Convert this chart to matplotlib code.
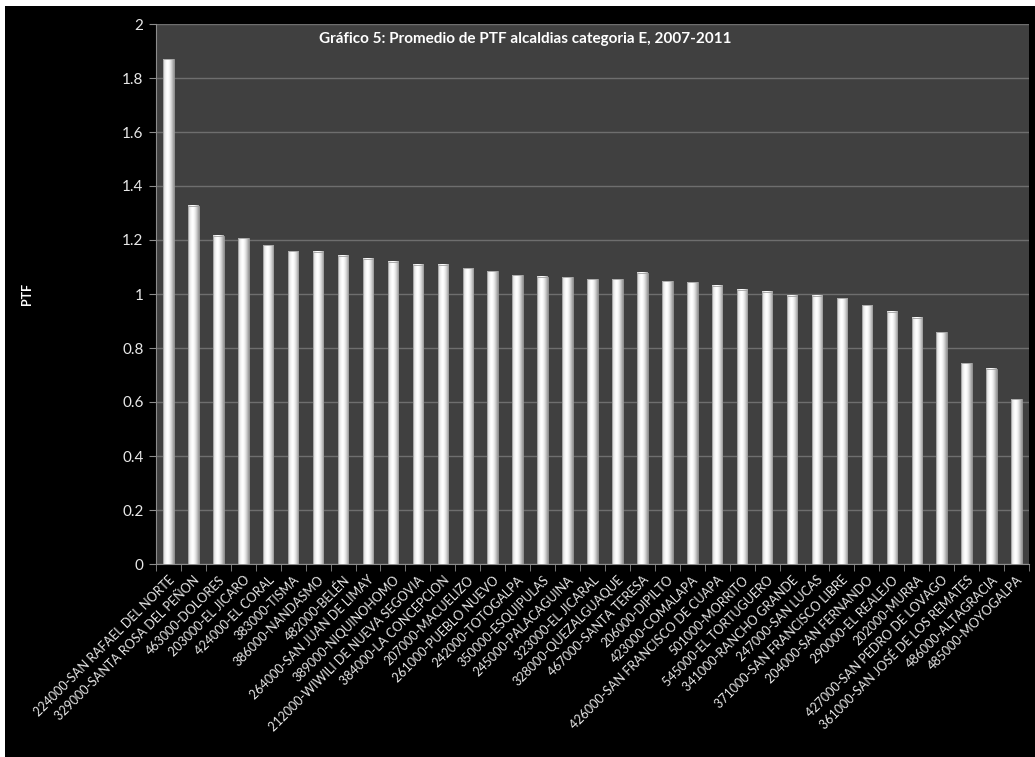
import matplotlib
matplotlib.use('Agg')
import matplotlib.pyplot as plt
import matplotlib.patches as mpatches
import numpy as np

plt.rcParams['font.family'] = ['Lato', 'DejaVu Sans']

BG = '#000000'
PLOT_BG = '#404040'
GRID = '#6e6e6e'
AXIS = '#8c8c8c'
TEXT = '#e8e8e8'

municipios = [
    '224000-SAN RAFAEL DEL NORTE', '329000-SANTA ROSA DEL PEÑON', '463000-DOLORES',
    '203000-EL JICARO', '424000-EL CORAL', '383000-TISMA', '386000-NANDASMO',
    '482000-BELÉN', '264000-SAN JUAN DE LIMAY', '389000-NIQUINOHOMO',
    '212000-WIWILI DE NUEVA SEGOVIA', '384000-LA CONCEPCION', '207000-MACUELIZO',
    '261000-PUEBLO NUEVO', '242000-TOTOGALPA', '350000-ESQUIPULAS',
    '245000-PALACAGUINA', '323000-EL JICARAL', '328000-QUEZALGUAQUE',
    '467000-SANTA TERESA', '206000-DIPILTO', '423000-COMALAPA',
    '426000-SAN FRANCISCO DE CUAPA', '501000-MORRITO', '545000-EL TORTUGUERO',
    '341000-RANCHO GRANDE', '247000-SAN LUCAS', '371000-SAN FRANCISCO LIBRE',
    '204000-SAN FERNANDO', '290000-EL REALEJO', '202000-MURRA',
    '427000-SAN PEDRO DE LOVAGO', '361000-SAN JOSÉ DE LOS REMATES',
    '486000-ALTAGRACIA', '485000-MOYOGALPA',
]
ptf = [
    1.870, 1.326, 1.215, 1.207, 1.181, 1.159, 1.156, 1.141, 1.130, 1.120,
    1.109, 1.109, 1.096, 1.085, 1.069, 1.063, 1.062, 1.054, 1.054, 1.079,
    1.047, 1.043, 1.030, 1.016, 1.008, 0.994, 0.994, 0.984, 0.959, 0.935,
    0.912, 0.858, 0.743, 0.723, 0.610,
]

W, H = 1035, 757
fig = plt.figure(figsize=(W / 100, H / 100), dpi=100)
fig.patch.set_facecolor(BG)
# thin white margin along the top and left edges
fig.patches.append(mpatches.Rectangle((0, 1 - 6 / H), 1, 6 / H, transform=fig.transFigure,
                                      facecolor='white', edgecolor='none', zorder=0))
fig.patches.append(mpatches.Rectangle((0, 0), 5 / W, 1, transform=fig.transFigure,
                                      facecolor='white', edgecolor='none', zorder=0))

ax = fig.add_axes([156 / W, 1 - 564 / H, (1029 - 156) / W, (564 - 24) / H])
ax.set_facecolor(PLOT_BG)

x = np.arange(len(ptf))
w = 0.42

# cylinder-style shading across each bar
prof = np.linspace(0, 1, 64)
shade = 1 - 0.42 * np.abs((prof - 0.42) / 0.58) ** 1.8
grad = np.tile(shade, (2, 1))
for xi, v in zip(x, ptf):
    ax.imshow(grad, cmap='gray', vmin=0, vmax=1, aspect='auto',
              extent=(xi - w / 2, xi + w / 2, 0, v), zorder=3, interpolation='bicubic')
    ax.add_patch(mpatches.Rectangle((xi - w / 2, 0), w, v, facecolor='none',
                                    edgecolor='#a0a0a0', linewidth=0.6, zorder=4))

ax.set_xlim(-0.5, len(ptf) - 0.5)
ax.set_ylim(0, 2)
ax.set_yticks(np.arange(0, 2.01, 0.2))
ax.set_yticklabels(['0', '0.2', '0.4', '0.6', '0.8', '1', '1.2', '1.4', '1.6', '1.8', '2'])
ax.yaxis.grid(True, color=GRID, linewidth=1.0)
ax.set_axisbelow(True)

ax.set_xticks(x)
ax.set_xticklabels(municipios, rotation=45, ha='right', rotation_mode='anchor',
                   fontsize=9, color=TEXT)
ax.set_xticks(np.arange(-0.5, len(ptf), 1), minor=True)
ax.tick_params(axis='x', which='major', length=0, pad=7)
ax.tick_params(axis='x', which='minor', length=5, color=AXIS, direction='out')
ax.tick_params(axis='y', length=5, color=AXIS, labelcolor=TEXT, labelsize=11, pad=4)

for s in ['top', 'right']:
    ax.spines[s].set_visible(False)
ax.spines['left'].set_color(AXIS)
ax.spines['bottom'].set_color(AXIS)

ax.set_ylabel('PTF', color='white', fontsize=9, fontweight='bold')
ax.yaxis.set_label_coords(-0.141, 0.5)
ax.text(0.423, 0.985, 'Gráfico 5: Promedio de PTF alcaldias categoria E, 2007-2011',
        transform=ax.transAxes, ha='center', va='top', color='white',
        fontsize=11, fontweight='bold', zorder=5)

plt.savefig('out.png', dpi=100, facecolor=BG)
plt.close()
